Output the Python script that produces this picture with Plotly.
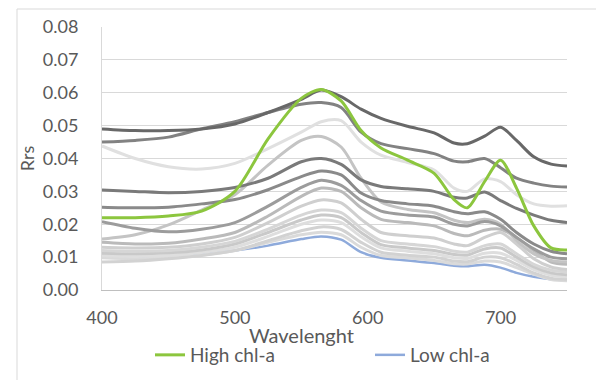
import plotly.graph_objects as go

# Wavelength grid (nm)
wavelength = [400, 425, 450, 475, 500, 525, 550, 565, 580, 595, 610, 630, 650, 665, 675, 688, 700, 712, 725, 738, 750]

high_chl = [0.0220, 0.0220, 0.0225, 0.0240, 0.0300, 0.0460, 0.0583, 0.0610, 0.0575, 0.0485, 0.0432, 0.0395, 0.0355, 0.0275, 0.0250, 0.0330, 0.0395, 0.0310, 0.0195, 0.0128, 0.0122]
low_chl = [0.0100, 0.0098, 0.0102, 0.0110, 0.0120, 0.0135, 0.0155, 0.0163, 0.0153, 0.0115, 0.0098, 0.0090, 0.0082, 0.0074, 0.0072, 0.0077, 0.0068, 0.0052, 0.0040, 0.0033, 0.0030]

s_a = [0.0490, 0.0485, 0.0485, 0.0490, 0.0505, 0.0540, 0.0580, 0.0608, 0.0588, 0.0550, 0.0522, 0.0498, 0.0478, 0.0447, 0.0445, 0.0468, 0.0495, 0.0455, 0.0405, 0.0383, 0.0377]
s_b = [0.0450, 0.0455, 0.0465, 0.0490, 0.0512, 0.0540, 0.0565, 0.0570, 0.0555, 0.0480, 0.0445, 0.0430, 0.0415, 0.0392, 0.0390, 0.0400, 0.0372, 0.0340, 0.0325, 0.0316, 0.0313]
s_c = [0.0438, 0.0400, 0.0375, 0.0368, 0.0385, 0.0430, 0.0480, 0.0512, 0.0515, 0.0450, 0.0410, 0.0388, 0.0365, 0.0310, 0.0300, 0.0338, 0.0330, 0.0290, 0.0262, 0.0255, 0.0256]
s_d = [0.0304, 0.0300, 0.0296, 0.0300, 0.0312, 0.0340, 0.0390, 0.0400, 0.0382, 0.0335, 0.0315, 0.0308, 0.0300, 0.0282, 0.0280, 0.0298, 0.0272, 0.0248, 0.0228, 0.0212, 0.0205]
s_e = [0.0155, 0.0168, 0.0198, 0.0243, 0.0290, 0.0380, 0.0455, 0.0467, 0.0435, 0.0340, 0.0268, 0.0245, 0.0235, 0.0212, 0.0205, 0.0215, 0.0200, 0.0150, 0.0110, 0.0090, 0.0085]
s_f = [0.0252, 0.0250, 0.0252, 0.0262, 0.0275, 0.0305, 0.0345, 0.0362, 0.0350, 0.0295, 0.0272, 0.0262, 0.0255, 0.0238, 0.0232, 0.0238, 0.0215, 0.0175, 0.0140, 0.0118, 0.0110]
s_g = [0.0208, 0.0188, 0.0177, 0.0185, 0.0205, 0.0255, 0.0312, 0.0334, 0.0318, 0.0272, 0.0240, 0.0228, 0.0222, 0.0200, 0.0195, 0.0208, 0.0195, 0.0160, 0.0125, 0.0100, 0.0095]
s_h = [0.0145, 0.0140, 0.0142, 0.0155, 0.0175, 0.0225, 0.0285, 0.0310, 0.0300, 0.0250, 0.0215, 0.0205, 0.0195, 0.0172, 0.0165, 0.0182, 0.0185, 0.0160, 0.0120, 0.0085, 0.0078]
s_i = [0.0130, 0.0128, 0.0130, 0.0140, 0.0160, 0.0205, 0.0255, 0.0274, 0.0265, 0.0215, 0.0175, 0.0165, 0.0158, 0.0140, 0.0135, 0.0160, 0.0175, 0.0140, 0.0095, 0.0070, 0.0062]
s_j = [0.0120, 0.0118, 0.0120, 0.0130, 0.0148, 0.0185, 0.0228, 0.0243, 0.0235, 0.0188, 0.0150, 0.0140, 0.0132, 0.0118, 0.0115, 0.0135, 0.0140, 0.0110, 0.0078, 0.0060, 0.0055]
s_k = [0.0112, 0.0110, 0.0113, 0.0122, 0.0140, 0.0175, 0.0213, 0.0228, 0.0220, 0.0175, 0.0138, 0.0128, 0.0120, 0.0108, 0.0106, 0.0125, 0.0128, 0.0100, 0.0070, 0.0052, 0.0046]
s_l = [0.0105, 0.0102, 0.0105, 0.0114, 0.0130, 0.0163, 0.0200, 0.0213, 0.0205, 0.0162, 0.0128, 0.0118, 0.0110, 0.0098, 0.0096, 0.0112, 0.0112, 0.0090, 0.0062, 0.0045, 0.0040]
s_m = [0.0085, 0.0088, 0.0095, 0.0105, 0.0120, 0.0150, 0.0180, 0.0192, 0.0184, 0.0145, 0.0115, 0.0106, 0.0100, 0.0088, 0.0086, 0.0100, 0.0098, 0.0078, 0.0052, 0.0036, 0.0032]
s_n = [0.0098, 0.0095, 0.0098, 0.0106, 0.0120, 0.0145, 0.0168, 0.0176, 0.0168, 0.0130, 0.0105, 0.0098, 0.0090, 0.0080, 0.0079, 0.0088, 0.0085, 0.0068, 0.0048, 0.0032, 0.0028]

gray_series = [s_n, s_m, s_l, s_k, s_j, s_i, s_h, s_e, s_c, s_g, s_f, s_d, s_b, s_a]
gray_colors = ["#dadada", "#d2d2d2", "#dedede", "#c9c9c9", "#d6d6d6", "#cfcfcf", "#bababa",
               "#c4c4c4", "#e0e0e0", "#9c9c9c", "#8a8a8a", "#7a7a7a", "#828282", "#686868"]

x_ticks = [400, 500, 600, 700]
y_ticks = [0.00, 0.01, 0.02, 0.03, 0.04, 0.05, 0.06, 0.07, 0.08]

FONT = "Lato, Carlito, Calibri, sans-serif"
TXT = "#595959"
FS = 18

fig = go.Figure()

fig.add_trace(go.Scatter(x=wavelength, y=low_chl, mode="lines", name="Low chl-a",
                         line=dict(color="#8eaadb", width=2.5, shape="spline", smoothing=0.8),
                         showlegend=True, legend="legend2"))
for vals, col in zip(gray_series, gray_colors):
    fig.add_trace(go.Scatter(x=wavelength, y=vals, mode="lines", showlegend=False,
                             line=dict(color=col, width=3, shape="spline", smoothing=0.8),
                             hoverinfo="skip"))
fig.add_trace(go.Scatter(x=wavelength, y=high_chl, mode="lines", name="High chl-a",
                         line=dict(color="#8cc63e", width=3, shape="spline", smoothing=0.8),
                         showlegend=True, legend="legend"))

# The page adds an 8px body margin; targets below are in screen pixels.
OFF = 8
L, R, T, B = 102 - OFF, 567 - OFF, 27 - OFF, 290 - OFF
W, H = 604 - OFF, 380 - OFF
pw, ph = R - L, B - T

def px(xs):
    return (xs - OFF - L) / pw

def py(ys):
    return (B - (ys - OFF)) / ph

legend_common = dict(orientation="h", yanchor="middle", xanchor="left",
                     font=dict(size=19, color=TXT), bgcolor="rgba(0,0,0,0)", borderwidth=0)

fig.update_layout(
    width=W, height=H,
    margin=dict(l=L, r=W - R, t=T, b=H - B, pad=0, autoexpand=False),
    paper_bgcolor="white", plot_bgcolor="white",
    font=dict(family=FONT, size=FS, color=TXT),
    xaxis=dict(range=[400, 750], tickvals=x_ticks, ticktext=[str(v) for v in x_ticks],
               showgrid=False, zeroline=False, showline=True, linecolor="#bfbfbf", linewidth=1,
               ticks="", ticklabelstandoff=11, automargin=False, tickfont=dict(size=FS, color=TXT)),
    yaxis=dict(range=[0, 0.08], tickvals=y_ticks, tickformat=".2f",
               showgrid=True, gridcolor="#d9d9d9", gridwidth=1, zeroline=False,
               showline=True, linecolor="#d9d9d9", linewidth=1, automargin=False,
               ticks="", ticklabelstandoff=19, tickfont=dict(size=FS, color=TXT),
               title=dict(text="Rrs", standoff=3, font=dict(size=FS, color=TXT))),
    legend=dict(x=px(150), y=py(355), **legend_common),
    legend2=dict(x=px(370), y=py(355), **legend_common),
    showlegend=True,
    annotations=[dict(text="Wavelenght", x=px(301), y=py(335), xref="paper", yref="paper",
                      showarrow=False, xanchor="center", yanchor="middle",
                      font=dict(size=20, color=TXT))],
    shapes=[
        dict(type="line", xref="paper", yref="paper", x0=px(17), x1=px(17), y0=py(9), y1=py(400),
             line=dict(color="#d9d9d9", width=1)),
        dict(type="line", xref="paper", yref="paper", x0=px(17), x1=px(620), y0=py(9), y1=py(9),
             line=dict(color="#d9d9d9", width=1)),
    ],
)

fig.write_html("out.html")
